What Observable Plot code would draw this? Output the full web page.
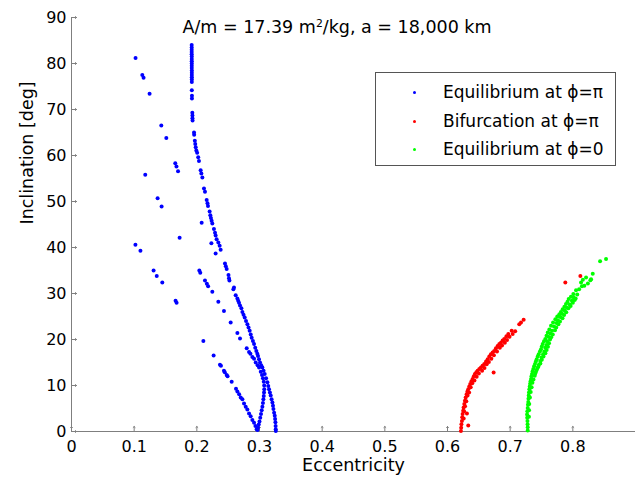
<!DOCTYPE html>
<html><head><meta charset="utf-8">
<script src="https://cdn.jsdelivr.net/npm/d3@7"></script>
<script src="https://cdn.jsdelivr.net/npm/@observablehq/plot@0.6"></script>
<style>
body{margin:0;background:#fff;}
#wrap{position:relative;width:635px;height:483px;font-family:"DejaVu Sans",sans-serif;color:#000;}
#title{position:absolute;top:17px;left:337px;transform:translateX(-50%);white-space:nowrap;font-size:17.5px;line-height:20px;}
#title sup{font-size:0.62em;line-height:0;vertical-align:0.6em;}
#legend{position:absolute;left:375px;top:72px;width:239px;height:92px;border:1px solid #555;background:#fff;}
.row{position:absolute;left:0;width:239px;height:20px;font-size:17px;line-height:20px;white-space:nowrap;}
.row span.t{position:absolute;left:67px;top:0;}
.row span.d{position:absolute;left:37px;top:9px;width:3px;height:3px;border-radius:50%;}
</style></head>
<body>
<div id="wrap">
<div id="chart"></div>
<div id="title">A/m = 17.39 m<sup>2</sup>/kg, a = 18,000 km</div>
<div id="legend"></div>
</div>
<script>
const seriesNames = ["Equilibrium at \u03D5=\u03C0", "Bifurcation at \u03D5=\u03C0", "Equilibrium at \u03D5=0"];
const seriesColors = ["#0000ff", "#ff0000", "#00ff00"];
const xTicks = [0, 0.1, 0.2, 0.3, 0.4, 0.5, 0.6, 0.7, 0.8];
const yTicks = [0, 10, 20, 30, 40, 50, 60, 70, 80, 90];

// Equilibrium at phi=pi : main dense branch [e, i]
const eqPiMain = [
[0.1918,84.0],[0.1918,83.5],[0.1918,83.0],[0.1918,82.5],[0.1918,82.0],[0.1919,81.5],[0.1919,81.0],[0.1919,80.5],[0.1919,80.0],[0.1919,79.5],[0.1919,79.0],[0.1920,78.5],[0.1920,78.0],[0.1920,77.5],[0.1920,77.0],[0.1920,76.5],[0.1920,76.0],
[0.1920,74.2],[0.1922,73.0],[0.1922,72.4],[0.1928,69.3],[0.1930,68.7],[0.1930,68.1],[0.1932,67.6],[0.1955,65.0],[0.1957,64.5],[0.1968,63.2],[0.1975,62.5],[0.1982,61.8],[0.1992,61.1],[0.2005,60.6],[0.2022,59.6],[0.2034,58.8],[0.2061,56.8],[0.2072,56.1],[0.2088,55.2],[0.2114,52.8],[0.2130,52.1],[0.2157,50.3],[0.2170,49.6],[0.2178,49.0],[0.2204,47.8],[0.2215,47.0],[0.2225,46.4],[0.2236,45.8],[0.2247,45.2],[0.2273,44.0],[0.2290,43.2],[0.2300,42.6],[0.2316,41.8],[0.2343,41.1],[0.2364,40.4],[0.2380,39.5],
[0.2449,36.5],[0.2462,35.9],[0.2476,35.3],[0.2505,34.0],[0.2513,33.3],[0.2520,32.8],[0.2593,31.3],[0.2583,30.9],[0.2620,29.6],[0.2647,28.9],[0.2660,28.4],[0.2673,28.0],[0.2689,27.4],[0.2711,26.8],[0.2727,26.0],[0.2745,25.4],[0.2764,24.8],[0.2785,24.0],[0.2807,23.3],[0.2825,22.6],[0.2843,21.9],[0.2860,21.1],[0.2875,20.4],[0.2895,19.7],[0.2913,19.0],[0.2932,18.2],[0.2950,17.5],[0.2965,16.9],[0.2976,16.4],[0.2992,15.7],[0.3008,15.0],[0.3027,14.4],[0.3046,13.9],[0.3065,13.2],[0.3083,12.5],[0.3105,11.6],[0.3126,10.7],[0.3140,9.9],[0.3152,9.2],[0.3166,8.5],[0.3179,7.8],[0.3193,7.0],[0.3206,6.3],[0.3215,5.6],[0.3222,4.9],[0.3233,4.1],[0.3243,3.4],[0.3249,2.7],[0.3254,2.0],[0.3257,1.2],[0.3259,0.5],[0.3260,0.1]
];
// Equilibrium at phi=pi : sparse upper branch
const eqPiBranch1 = [
[0.1022,81.2],[0.1130,77.5],[0.1150,76.9],[0.1246,73.4],[0.1433,66.5],[0.1513,63.8],[0.1656,58.3],[0.1675,57.6],[0.1700,56.6],[0.2077,45.4],[0.2232,40.9],[0.2300,38.7]
];
// Equilibrium at phi=pi : middle branch bending back to e~0.297
const eqPiBranch2 = [
[0.1177,55.8],[0.1374,50.7],[0.1438,48.9],[0.1725,42.1],[0.2040,35.0],[0.2055,34.5],[0.2130,32.8],[0.2160,32.1],[0.2180,31.6],[0.2247,30.4],[0.2343,28.2],[0.2433,26.2],[0.2540,23.7],[0.2647,21.4],[0.2689,20.2],[0.2796,18.1],[0.2833,17.3],[0.2855,16.9],[0.2886,16.2],[0.2913,15.8],[0.2940,15.0],[0.2970,14.4],[0.2993,13.9],[0.3020,13.0],[0.3040,12.3],[0.3055,11.6],[0.3068,10.8],[0.3075,10.0],[0.3076,9.2],[0.3072,8.5],[0.3068,7.7],[0.3062,7.0],[0.3055,6.2],[0.3046,5.4],[0.3035,4.6],[0.3024,3.8],[0.3012,3.0],[0.3000,2.2],[0.2988,1.5],[0.2976,0.8],[0.2968,0.3]
];
// Equilibrium at phi=pi : lower branch
const eqPiBranch3 = [
[0.1020,40.6],[0.1100,39.3],[0.1310,35.0],[0.1360,33.8],[0.1449,32.4],[0.1661,28.4],[0.1677,28.0],[0.2104,19.7],[0.2268,16.5],[0.2369,14.5],[0.2385,14.3],[0.2433,13.2],[0.2446,12.9],[0.2476,12.3],[0.2490,12.0],[0.2556,10.8],[0.2625,9.3],[0.2647,8.7],[0.2675,8.1],[0.2700,7.4],[0.2727,7.0],[0.2753,6.1],[0.2780,5.4],[0.2806,4.8],[0.2833,3.9],[0.2859,3.3],[0.2886,2.5],[0.2913,1.9],[0.2935,1.2],[0.2955,0.5]
];
// Bifurcation at phi=pi
const bifPi = [
[0.6214,0.1],[0.6218,0.8],[0.6222,1.6],[0.6230,2.3],[0.6235,3.1],[0.6241,3.8],[0.6250,4.5],[0.6257,5.2],[0.6268,6.0],[0.6278,6.7],[0.6290,7.4],[0.6305,8.1],[0.6318,8.7],[0.6331,9.2],[0.6347,9.8],[0.6363,10.3],[0.6382,10.9],[0.6401,11.4],[0.6420,12.0],[0.6438,12.5],[0.6460,12.9],[0.6481,13.2],[0.6508,13.6],[0.6534,13.9],[0.6560,14.3],[0.6587,14.7],[0.6615,15.2],[0.6641,15.7],[0.6667,16.3],[0.6693,16.8],[0.6720,17.2],[0.6746,17.5],[0.6773,18.1],[0.6800,18.6],[0.6827,19.0],[0.6853,19.3],[0.6880,19.8],[0.6906,20.1],[0.6940,20.7],[0.6970,21.2],[0.7024,21.9],[0.7145,23.3],[0.7173,23.7],[0.7215,24.3],
[0.6258,2.8],[0.6265,4.4],[0.6280,5.5],[0.6300,6.6],[0.6320,7.8],[0.6345,8.5],[0.6370,9.6],[0.6395,10.5],[0.6430,11.1],[0.6465,11.9],[0.6500,12.6],[0.6552,13.2],[0.6590,13.8],[0.6625,14.6],[0.6660,15.1],[0.6700,15.8],[0.6740,16.6],[0.6790,17.4],[0.6835,18.2],[0.6870,18.7],[0.6915,19.3],[0.6950,19.9],[0.6990,20.6],[0.7040,21.2],[0.7080,21.8],
[0.6310,3.9],[0.6331,1.3],[0.6736,12.8],[0.7880,32.4],[0.8120,33.8]
];
// Equilibrium at phi=0
const eqZero = [
[0.7280,0.2],[0.7280,0.9],[0.7278,1.6],[0.7276,2.3],[0.7272,3.0],[0.7270,3.7],[0.7274,4.4],[0.7280,5.1],[0.7284,5.8],[0.7289,6.4],[0.7292,7.1],[0.7296,7.8],[0.7300,8.5],[0.7306,9.2],[0.7312,9.8],[0.7318,10.4],[0.7325,10.9],[0.7333,11.4],[0.7340,12.0],[0.7348,12.5],[0.7358,13.1],[0.7369,13.6],[0.7382,14.2],[0.7396,14.7],[0.7410,15.2],[0.7423,15.7],[0.7440,16.3],[0.7455,16.8],[0.7475,17.4],[0.7492,17.9],[0.7505,18.5],[0.7519,19.0],[0.7540,19.6],[0.7561,20.1],[0.7580,20.8],[0.7600,21.5],[0.7625,22.2],[0.7652,23.0],[0.7685,23.7],[0.7721,24.4],[0.7752,25.0],[0.7785,25.5],[0.7810,26.0],[0.7838,26.6],[0.7865,27.1],[0.7891,27.7],[0.7915,28.2],[0.7934,28.8],[0.7970,29.3],[0.8008,29.9],[0.8051,30.7],[0.8131,32.4],[0.8211,33.5],[0.8318,34.3],[0.8435,37.0],[0.8530,37.5],
[0.7300,3.2],[0.7302,4.6],[0.7305,6.0],[0.7315,7.4],[0.7328,8.6],[0.7342,9.6],[0.7355,10.6],[0.7372,11.3],[0.7392,12.1],[0.7412,13.0],[0.7435,13.8],[0.7458,14.5],[0.7480,15.3],[0.7500,16.1],[0.7525,16.8],[0.7545,17.4],[0.7560,18.2],[0.7578,18.8],[0.7590,19.6],[0.7608,20.6],[0.7640,21.3],[0.7668,21.9],[0.7700,22.8],[0.7740,23.6],[0.7762,24.2],[0.7800,24.9],[0.7828,25.6],[0.7870,26.3],[0.7905,26.9],[0.7950,27.6],[0.7985,28.4],[0.8010,29.2],[0.8030,28.6],[0.8100,30.9],[0.8145,31.6],[0.8184,31.7],[0.8160,33.0],[0.8240,32.2],[0.8280,32.9],[0.8291,33.1],
[0.7400,12.6],[0.7425,13.4],[0.7450,14.1],[0.7482,14.8],[0.7505,15.6],[0.7532,16.3],[0.7562,17.0],[0.7582,17.7],[0.7603,18.4],[0.7620,19.2],[0.7636,20.0],[0.7655,20.5],[0.7680,21.1],[0.7715,22.0],[0.7735,22.6],[0.7770,23.3],[0.7795,23.9],[0.7835,24.6],[0.7860,25.3],[0.7895,25.9],[0.7930,26.8],[0.7965,27.3],[0.8000,28.0],[0.8045,28.9],[0.8070,29.8]
];

const toRows = (arr, s) => arr.map(([e, i]) => ({e, i, s}));
const points = [
  ...toRows(eqPiMain, seriesNames[0]),
  ...toRows(eqPiBranch1, seriesNames[0]),
  ...toRows(eqPiBranch2, seriesNames[0]),
  ...toRows(eqPiBranch3, seriesNames[0]),
  ...toRows(bifPi, seriesNames[1]),
  ...toRows(eqZero, seriesNames[2])
];

const axisGray = "#7f7f7f";
const chart = Plot.plot({
  width: 635, height: 483,
  marginLeft: 71, marginRight: 0, marginTop: 17, marginBottom: 52,
  style: {fontFamily: "DejaVu Sans", fontSize: "16px", background: "white", color: "black", overflow: "visible"},
  x: {domain: [0, 0.9]},
  y: {domain: [0, 90]},
  color: {domain: seriesNames, range: seriesColors},
  marks: [
    Plot.ruleY([0], {stroke: axisGray}),
    Plot.ruleX([0], {stroke: axisGray}),
    Plot.axisX(xTicks, {tickSize: 0, tickPadding: 9, fill: "black", label: null, tickFormat: d => String(d)}),
    Plot.axisY(yTicks, {tickSize: 0, tickPadding: 5, fill: "black", label: null, tickFormat: d => String(d)}),
    Plot.vector(xTicks, {x: d => d, frameAnchor: "bottom", length: 5, rotate: 0, anchor: "start", stroke: axisGray, strokeWidth: 1}),
    Plot.vector(yTicks, {y: d => d, frameAnchor: "left", length: 5, rotate: 90, anchor: "start", stroke: axisGray, strokeWidth: 1}),
    Plot.dot(points, {x: "e", y: "i", fill: "s", r: 2, stroke: null}),
    Plot.text(["Eccentricity"], {text: d => d, frameAnchor: "bottom", dy: 39, fontSize: 17.5}),
    Plot.text(["Inclination [deg]"], {text: d => d, frameAnchor: "left", dx: -44, rotate: -90, fontSize: 17.5})
  ]
});
document.getElementById("chart").appendChild(chart);

const legend = document.getElementById("legend");
const rowCenters = [19, 48, 76];
seriesNames.forEach((name, k) => {
  const row = document.createElement("div");
  row.className = "row";
  row.style.top = (rowCenters[k] - 10) + "px";
  const d = document.createElement("span");
  d.className = "d";
  d.style.background = seriesColors[k];
  const t = document.createElement("span");
  t.className = "t";
  t.textContent = name;
  row.appendChild(d); row.appendChild(t);
  legend.appendChild(row);
});
</script>
</body></html>
